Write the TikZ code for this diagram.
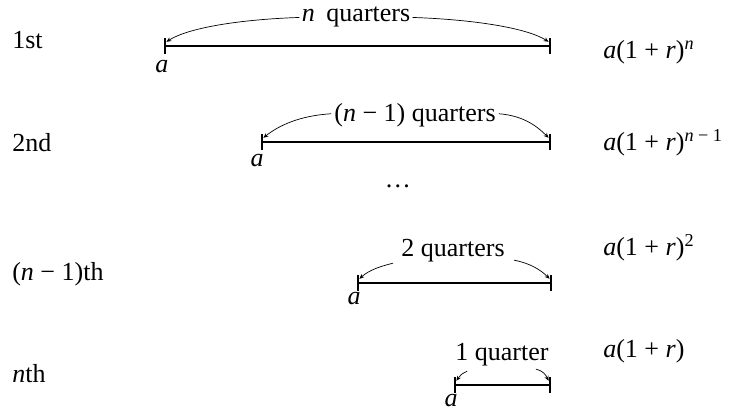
\documentclass[tikz,border=0pt]{standalone}
\usepackage{fontspec}
\setmainfont{Liberation Serif}
\usetikzlibrary{arrows.meta}

\newcommand{\vn}{\textit{n}}
\newcommand{\va}{\textit{a}}

\tikzset{
  bar/.style={line width=1.4pt},
  tick/.style={line width=1.1pt},
  arc/.style={line width=0.5pt, -{Stealth[length=3.5pt,width=3pt]}},
  lbl/.style={font=\fontsize{18.5}{22}\selectfont, inner sep=0pt},
}

\begin{document}
\begin{tikzpicture}[x=0.025cm,y=-0.025cm]
        \useasboundingbox (0,0) rectangle (729,410);

        % row names
        \node[lbl, anchor=base west] (row1) at (12,48) {1st};
        \node[lbl, anchor=base west] (row2) at (12,151) {2nd};
        \node[lbl, anchor=base west] (row3) at (12,280) {(\vn\ − 1)th};
        \node[lbl, anchor=base west] (row4) at (12,382) {\vn th};

        % x line
        \coordinate (s1) at (165,46);  \coordinate (e1) at (550,46);
        \coordinate (s2) at (262,142); \coordinate (e2) at (550,142);
        \coordinate (s3) at (358,283); \coordinate (e3) at (551,283);
        \coordinate (s4) at (455,385); \coordinate (e4) at (550,385);
        \draw[bar] (s1) -- (e1);
        \draw[bar] (s2) -- (e2);
        \draw[bar] (s3) -- (e3);
        \draw[bar] (s4) -- (e4);

        % y ticks
        \foreach \p in {s1,e1,s2,e2,s3,e3,s4,e4}
            \draw[tick] (\p) ++(0,-8) -- ++(0,16);

        % start value
        \node[lbl, anchor=base] (a1) at (162,72) {\va};
        \node[lbl, anchor=base] (a2) at (257,166) {\va};
        \node[lbl, anchor=base] (a3) at (354,304) {\va};
        \node[lbl, anchor=base] (a4) at (451,406) {\va};

        % quarter labels
        \node[lbl, anchor=base] (q1) at (356,21) {\vn\hspace{0.45em}quarters};
        \node[lbl, anchor=base] (q2) at (415,121) {(\vn\ − 1) quarters};
        \node[lbl, anchor=base] (q3) at (453,256) {2 quarters};
        \node[lbl, anchor=base] (q4) at (502,360) {1 quarter};

        % curve line
        \draw[arc] (q1.west) ++(-2,1) .. controls +(-60,2) and +(22,-14) .. ([xshift=1pt,yshift=3pt]s1);
        \draw[arc] (q1.east) ++(2,1) .. controls +(60,2) and +(-22,-14) .. ([xshift=-1pt,yshift=3pt]e1);
        \draw[arc] (q2.west) ++(-3,-1) .. controls +(-32,2) and +(15,-12) .. ([xshift=1pt,yshift=3pt]s2);
        \draw[arc] (q2.east) ++(3,-1) .. controls +(26,2) and +(-10,-10) .. ([xshift=-1pt,yshift=3pt]e2);
        \draw[arc] (q3.west) ++(-8,13) .. controls +(-12,3) and +(10,-9) .. ([xshift=1pt,yshift=3pt]s3);
        \draw[arc] (q3.east) ++(9,10) .. controls +(16,3) and +(-9,-9) .. ([xshift=-1pt,yshift=3pt]e3);
        \draw[arc] (q4.west) ++(12,17) .. controls +(-6,3) and +(4,-6) .. ([xshift=1pt,yshift=3pt]s4);
        \draw[arc] (q4.east) ++(-13,15) .. controls +(8,2) and +(-3,-6) .. ([xshift=-1pt,yshift=3pt]e4);

        % dots
        \node[lbl] (dots) at (398,186) {\dots};

        % amounts
        \node[lbl, anchor=base west] (f1) at (603,58) {\va(1 + \textit{r})\textsuperscript{\vn}};
        \node[lbl, anchor=base west] (f2) at (603,150) {\va(1 + \textit{r})\textsuperscript{\vn\ − 1}};
        \node[lbl, anchor=base west] (f3) at (603,255) {\va(1 + \textit{r})\textsuperscript{2}};
        \node[lbl, anchor=base west] (f4) at (603,357) {\va(1 + \textit{r})};
\end{tikzpicture}
\end{document}
